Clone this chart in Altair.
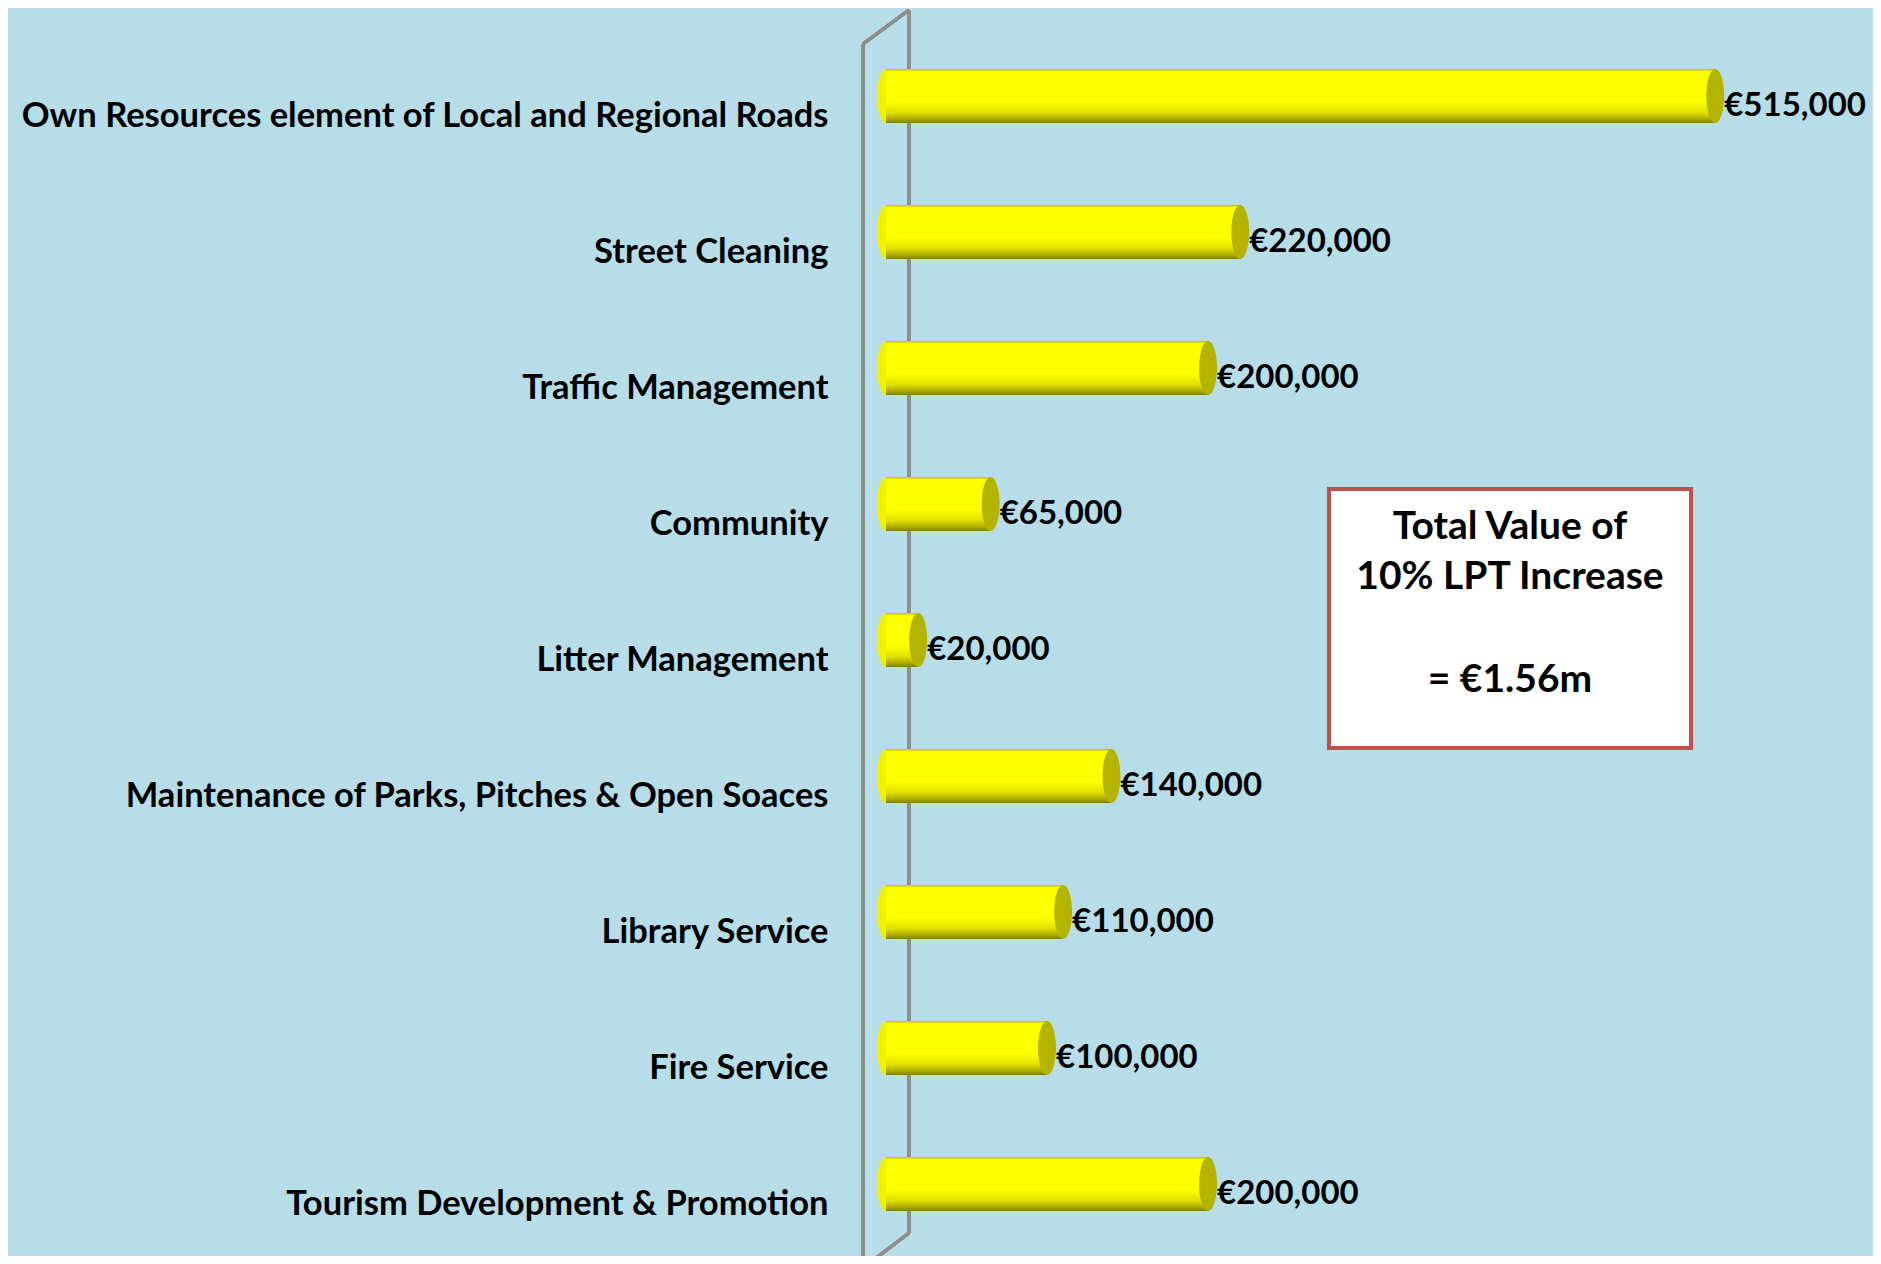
import altair as alt
import pandas as pd

categories = [
    "Own Resources element of Local and Regional Roads",
    "Street Cleaning",
    "Traffic Management",
    "Community",
    "Litter Management",
    "Maintenance of Parks, Pitches & Open Soaces",
    "Library Service",
    "Fire Service",
    "Tourism Development & Promotion",
]
values = [515000, 220000, 200000, 65000, 20000, 140000, 110000, 100000, 200000]
value_labels = ["€515,000", "€220,000", "€200,000", "€65,000", "€20,000",
                "€140,000", "€110,000", "€100,000", "€200,000"]
box_lines = ["Total Value of", "10% LPT Increase", "= €1.56m"]

df = pd.DataFrame({"cat": categories, "val": values, "lab": value_labels})
df["zero"] = 0

FONT = "Lato"
BG = "#B7DDE8"
BAR_H = 54
ELLIPSE = "M0,-1A0.33,1,0,1,1,0,1A0.33,1,0,1,1,0,-1Z"

grad = alt.Gradient(
    gradient="linear", x1=0, x2=0, y1=0, y2=1,
    stops=[
        alt.GradientStop(offset=0, color="#BDBD00"),
        alt.GradientStop(offset=0.05, color="#FFFF00"),
        alt.GradientStop(offset=0.6, color="#FFFF00"),
        alt.GradientStop(offset=0.8, color="#E2E200"),
        alt.GradientStop(offset=0.92, color="#B0B000"),
        alt.GradientStop(offset=1, color="#808000"),
    ],
)

xs = alt.Scale(domain=[0, 613000], nice=False, zero=True)
ys = alt.Scale(domain=categories, paddingInner=0, paddingOuter=0)

x_enc = alt.X("val:Q", scale=xs, axis=None)
y_enc = alt.Y(
    "cat:N", scale=ys, title=None,
    axis=alt.Axis(domain=False, ticks=False, labelPadding=58, labelOffset=21,
                  labelFont=FONT, labelFontSize=34.5, labelFontWeight="bold",
                  labelColor="#000000", labelLimit=900, grid=False),
)

base = alt.Chart(df)

wall_color = "#8E8E8E"
wall = [
    base.mark_rule(color=wall_color, strokeWidth=3).encode(
        x=alt.value(-23), y=alt.value(16), y2=alt.value(1245)),
    base.mark_rule(color=wall_color, strokeWidth=3).encode(
        x=alt.value(23), y=alt.value(-18), y2=alt.value(1205)),
    base.mark_rule(color=wall_color, strokeWidth=3).encode(
        x=alt.value(-23), x2=alt.value(23), y=alt.value(16), y2=alt.value(-18)),
    base.mark_rule(color=wall_color, strokeWidth=3).encode(
        x=alt.value(23), x2=alt.value(-23), y=alt.value(1205), y2=alt.value(1240)),
]

left_end = base.mark_point(shape=ELLIPSE, filled=True, color="#F2F200", strokeWidth=0,
                           opacity=1, size=BAR_H * BAR_H).encode(
    x=alt.X("zero:Q", scale=xs, axis=None), y=y_enc)

bars = base.mark_bar(size=BAR_H, fill=grad).encode(x=x_enc, y=y_enc)

caps = base.mark_point(shape=ELLIPSE, filled=True, color="#B3B300", strokeWidth=0,
                       opacity=1, size=BAR_H * BAR_H).encode(x=x_enc, y=y_enc)

labels = base.mark_text(align="left", baseline="middle", dx=9, dy=10, font=FONT,
                        fontSize=33, fontWeight="bold", color="#000000").encode(
    x=x_enc, y=y_enc, text="lab:N")

box = base.mark_rect(fill="white", stroke="#C0504D", strokeWidth=4).encode(
    x=alt.value(443), x2=alt.value(805), y=alt.value(461), y2=alt.value(720))

box_df = pd.DataFrame({"t": box_lines, "yy": [499, 549, 652]})
box_text = alt.Chart(box_df).mark_text(
    align="center", baseline="middle", font=FONT, fontSize=39,
    fontWeight="bold", color="#000000").encode(
    x=alt.value(624), y=alt.Y("yy:Q", scale=None), text="t:N")

chart = alt.layer(*wall, left_end, bars, caps, labels, box, box_text).properties(
    width=987, height=1224, background=BG,
    padding={"left": 878, "top": 20, "right": 0, "bottom": 4},
    autosize=alt.AutoSizeParams(type="none"),
).configure_view(stroke=None)

chart.save("out.html", embed_options={"renderer": "svg", "actions": False})
